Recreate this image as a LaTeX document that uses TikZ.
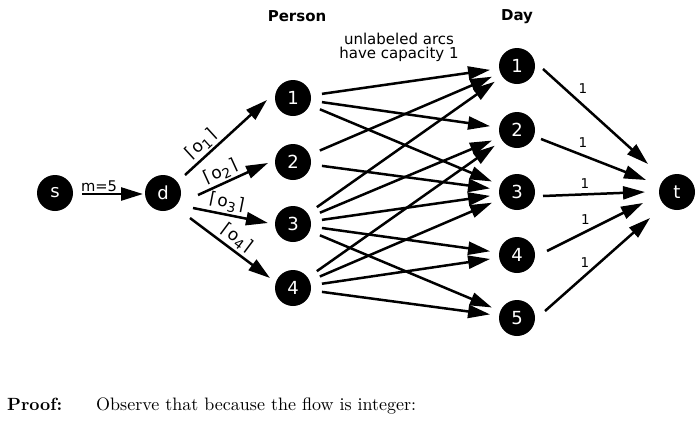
\documentclass[tikz,border=0pt]{standalone}
\usepackage{fontspec}
\usepackage{graphicx}
\newfontfamily\dv{DejaVu Sans}
\newfontfamily\lmten[BoldFont=lmroman10-bold.otf]{lmroman10-regular.otf}
\newcommand\ceilo[1]{⌈\kern1.4pt o\raisebox{-0.22em}{\fontsize{13.5}{13.5}\selectfont #1}\kern1.4pt⌉}
\usetikzlibrary{arrows.meta,calc}
\begin{document}
\begin{tikzpicture}[x=1pt,y=-1pt,
  vtx/.style={circle,fill=black,minimum size=36pt,inner sep=0pt,text=white,font=\dv\fontsize{18}{18}\selectfont},
  arr/.style={line width=2.5pt,-{Triangle[length=22pt,width=13pt]}},
  pd/.style={arr,shorten <=11pt,shorten >=9pt},
  headtxt/.style={font=\dv\bfseries\fontsize{15}{15}\selectfont,inner sep=0pt},
  elbl/.style={font=\dv\fontsize{13.5}{13.5}\selectfont,inner sep=0pt},
  ol/.style={font=\dv\fontsize{17}{17}\selectfont,inner sep=0pt,sloped,above=2pt}]
\useasboundingbox (0,0) rectangle (700,426);

% vertices
\node[vtx] (s) at (55,193) {s};
\node[vtx] (d) at (163,193) {d};
\node[vtx] (P1) at (293,98) {1};
\node[vtx] (P2) at (293,162) {2};
\node[vtx] (P3) at (293,224) {3};
\node[vtx] (P4) at (293,288) {4};
\node[vtx] (D1) at (517,66) {1};
\node[vtx] (D2) at (517,130) {2};
\node[vtx] (D3) at (517,192) {3};
\node[vtx] (D4) at (517,255) {4};
\node[vtx] (D5) at (517,318) {5};
\node[vtx] (t) at (677,192) {t};

% headings
\node[headtxt] (person) at (297,16.5) {Person};
\node[headtxt] (day) at (517,16.5) {Day};
\node[font=\dv\fontsize{15}{13.5}\selectfont,align=center,inner sep=0pt] (note) at (399,47.5) {unlabeled arcs\\have capacity 1};

% source side
\draw[arr] ($(s)+(27,1)$) -- node[elbl,pos=0.28,above=1.5pt] {\resizebox{36pt}{!}{\dv\fontsize{14}{14}\selectfont m=5}} ($(d)+(-20,1)$);
\draw[arr] ($(d)+(22,-18)$) -- node[ol,pos=0.29] {\ceilo{1}} ($(P1)+(-26,2)$);
\draw[arr] ($(d)+(35,2)$) -- node[ol,pos=0.39] {\ceilo{2}} ($(P2)+(-25,1)$);
\draw[arr] ($(d)+(30,15)$) -- node[ol,pos=0.42] {\ceilo{3}} ($(P3)+(-25,-1)$);
\draw[arr] ($(d)+(27,25)$) -- node[ol,pos=0.5] {\ceilo{4}} ($(P4)+(-23,-10)$);

% person -> day
\draw[pd] (P1) -- (D1);
\draw[pd] (P1) -- (D2);
\draw[pd] (P1) -- (D3);
\draw[pd] (P2) -- (D1);
\draw[pd] (P2) -- (D3);
\draw[pd] (P3) -- (D1);
\draw[pd] (P3) -- (D2);
\draw[pd] (P3) -- (D3);
\draw[pd] (P3) -- (D4);
\draw[pd] (P3) -- (D5);
\draw[pd] (P4) -- (D2);
\draw[pd] (P4) -- (D3);
\draw[pd] (P4) -- (D4);
\draw[pd] (P4) -- (D5);

% day -> sink
\draw[arr] ($(D1)+(26,3)$) -- node[elbl,pos=0.38,above=10pt] {1} ($(t)+(-29,-28)$);
\draw[arr] ($(D2)+(24,9)$) -- node[elbl,pos=0.4,above=6.5pt] {1} ($(t)+(-31,-12)$);
\draw[arr] ($(D3)+(26,4)$) -- node[elbl,pos=0.41,above=4.5pt] {1} ($(t)+(-32,0)$);
\draw[arr] ($(D4)+(30,-4)$) -- node[elbl,pos=0.4,above=6pt] {1} ($(t)+(-34,11)$);
\draw[arr] ($(D5)+(28,-7)$) -- node[elbl,pos=0.38,above=6.5pt] {1} ($(t)+(-27,26)$);

% text below
\node[anchor=base west,inner sep=0pt] (proof) at (7,410) {\resizebox{55pt}{!}{\lmten\fontsize{18}{21}\selectfont\bfseries Proof:}};
\node[anchor=base west,inner sep=0pt] (obs) at (96,410) {\resizebox{320pt}{!}{\lmten\fontsize{18}{21}\selectfont Observe that because the flow is integer:}};
\end{tikzpicture}
\end{document}
